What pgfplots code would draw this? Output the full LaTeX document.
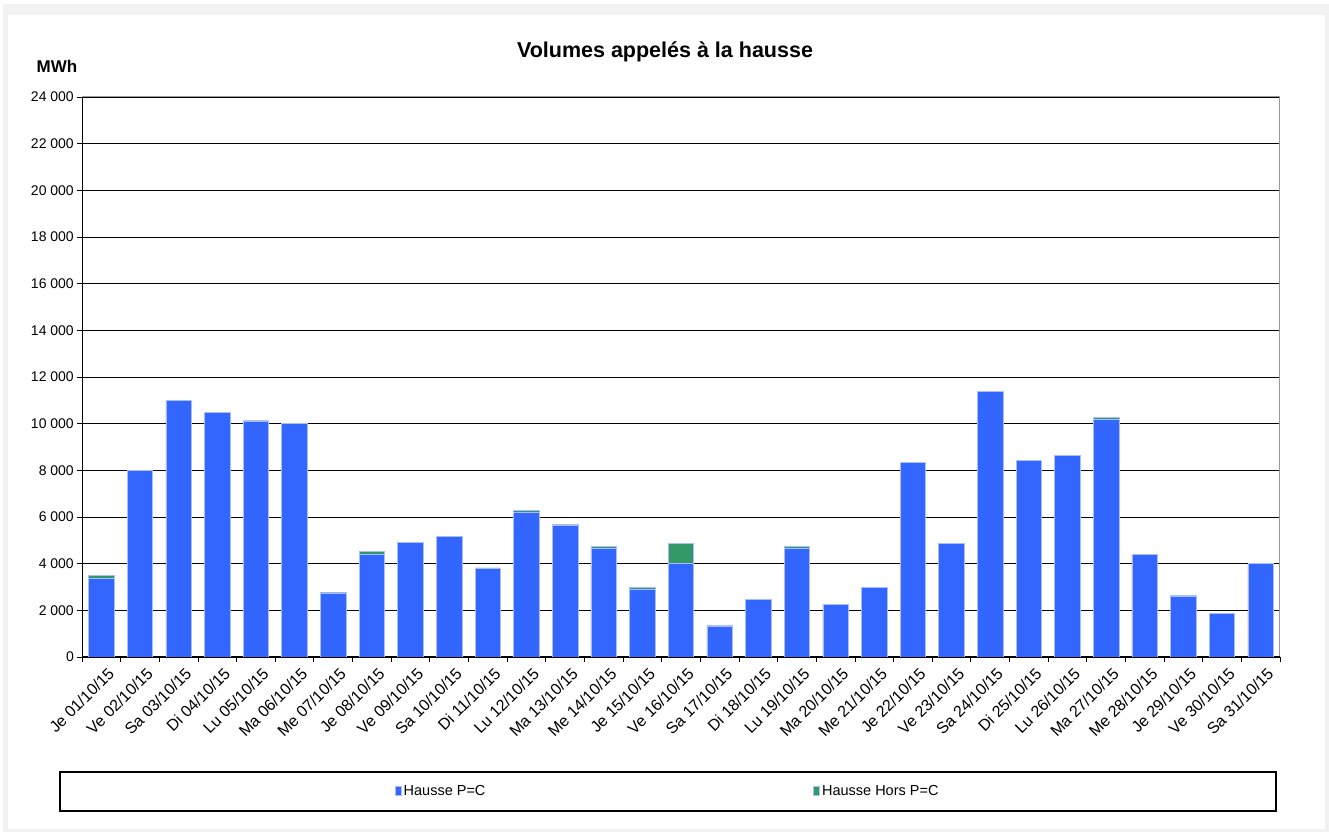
\documentclass[border=0pt]{standalone}
\usepackage{fontspec}
\setmainfont{Liberation Sans}
\usepackage{pgfplots}
\usepackage{pgfplotstable}
\pgfplotsset{compat=1.18}
\definecolor{bblue}{HTML}{3366FF}
\definecolor{bgreen}{HTML}{339966}
\definecolor{bedge}{HTML}{A8BEFF}

\pgfplotstableread{
x blue green
0 3380 110
1 7990 0
2 10990 0
3 10470 0
4 10090 60
5 10010 0
6 2745 40
7 4400 110
8 4910 0
9 5170 0
10 3815 0
11 6220 60
12 5630 60
13 4670 60
14 2915 55
15 4010 845
16 1300 55
17 2457 0
18 4670 60
19 2257 0
20 2970 0
21 8345 0
22 4857 0
23 11370 0
24 8415 0
25 8657 0
26 10170 100
27 4400 0
28 2590 55
29 1870 0
30 4014 0
}\data

\begin{document}
\begin{tikzpicture}[x=1pt,y=1pt]
% background panel
\fill[white] (0,0) rectangle (1329,832);
\fill[black!5] (3,0) rectangle (1329,828);
\fill[white] (8,3) rectangle (1325,817);
% title and unit
\node[font=\fontsize{21.5}{24}\selectfont\bfseries] at (665,780) {Volumes appelés à la hausse};
\node[font=\fontsize{17}{19}\selectfont\bfseries] at (57,766) {MWh};
% legend frame
\draw[black, line width=1.3pt] (60,21) rectangle (1276,60);

\begin{axis}[
  at={(82pt,175pt)}, anchor=south west,
  scale only axis, width=1198pt, height=560pt,
  ybar stacked, bar width=25.5pt,
  xmin=-0.5, xmax=30.5, ymin=0, ymax=24000,
  ytick={0,2000,...,24000},
  scaled y ticks=false,
  yticklabels={0,2 000,4 000,6 000,8 000,10 000,12 000,14 000,16 000,18 000,20 000,22 000,24 000},
  xtick={0,...,30},
  xticklabels={Je 01/10/15,Ve 02/10/15,Sa 03/10/15,Di 04/10/15,Lu 05/10/15,Ma 06/10/15,Me 07/10/15,Je 08/10/15,Ve 09/10/15,Sa 10/10/15,Di 11/10/15,Lu 12/10/15,Ma 13/10/15,Me 14/10/15,Je 15/10/15,Ve 16/10/15,Sa 17/10/15,Di 18/10/15,Lu 19/10/15,Ma 20/10/15,Me 21/10/15,Je 22/10/15,Ve 23/10/15,Sa 24/10/15,Di 25/10/15,Lu 26/10/15,Ma 27/10/15,Me 28/10/15,Je 29/10/15,Ve 30/10/15,Sa 31/10/15},
  minor xtick={-0.5,0.5,...,30.5},
  major x tick style={draw=none},
  tick align=outside,
  major tick length=5pt, minor tick length=5pt,
  tick style={black, line width=0.8pt},
  xtick pos=bottom, ytick pos=left,
  ymajorgrids, grid style={black, line width=0.8pt},
  axis line style={black!40, line width=1pt},
  xticklabel style={font=\fontsize{16}{18}\selectfont, rotate=45, anchor=north east, inner sep=1pt, yshift=-6pt, xshift=2pt},
  yticklabel style={font=\fontsize{14}{16}\selectfont, inner sep=3pt},
  legend columns=2,
  legend style={at={(0.489,-0.2402)}, anchor=center, draw=none, fill=none,
    font=\fontsize{14.5}{16}\selectfont,
    /tikz/every even column/.append style={column sep=326pt}},
  legend image code/.code={\fill[#1] (0pt,-4pt) rectangle (6pt,5pt);},
]
\addplot[fill=bblue, draw=bedge, line width=0.6pt] table[x=x, y=blue] {\data};
\addlegendentry{Hausse P=C}
\addplot[fill=bgreen, draw=bedge, line width=0.6pt] table[x=x, y=green] {\data};
\addlegendentry{Hausse Hors P=C}
\draw[black, line width=1.2pt] (rel axis cs:0,0) -- (rel axis cs:0,1);
\draw[black, line width=1.2pt] (rel axis cs:0,0) -- (rel axis cs:1,0);
\end{axis}
\end{tikzpicture}
\end{document}
